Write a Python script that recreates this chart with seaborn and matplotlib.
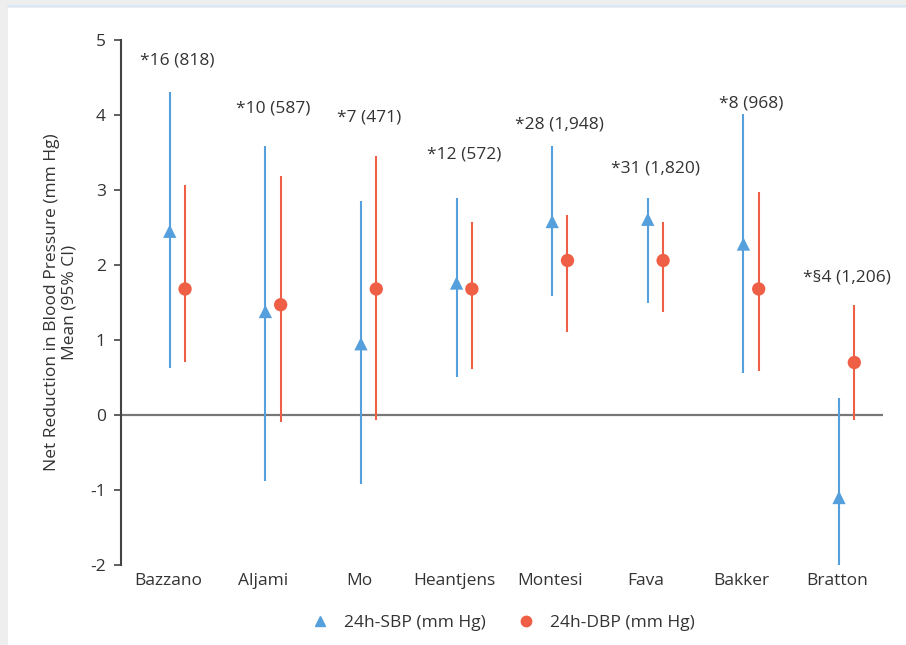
import matplotlib
matplotlib.use("Agg")
import matplotlib.pyplot as plt
from matplotlib.lines import Line2D
from matplotlib.patches import Rectangle
import numpy as np
import pandas as pd
import seaborn as sns

# Trials and their net 24-h blood pressure reductions (mm Hg, mean with 95% CI)
studies = ["Bazzano", "Aljami", "Mo", "Heantjens", "Montesi", "Fava", "Bakker", "Bratton"]
sbp_mean = [2.45, 1.38, 0.95, 1.76, 2.58, 2.61, 2.28, -1.10]
sbp_low = [0.63, -0.88, -0.92, 0.51, 1.59, 1.50, 0.56, -2.00]
sbp_high = [4.31, 3.59, 2.86, 2.90, 3.59, 2.90, 4.01, 0.23]
dbp_mean = [1.68, 1.47, 1.68, 1.68, 2.06, 2.06, 1.68, 0.70]
dbp_low = [0.71, -0.09, -0.07, 0.62, 1.11, 1.38, 0.59, -0.07]
dbp_high = [3.07, 3.19, 3.45, 2.57, 2.67, 2.57, 2.97, 1.47]
# Study annotations: number of comparisons (participants)
study_notes = ["*16 (818)", "*10 (587)", "*7 (471)", "*12 (572)",
               "*28 (1,948)", "*31 (1,820)", "*8 (968)", "*\u00a74 (1,206)"]
note_y = [4.73, 4.09, 3.96, 3.47, 3.87, 3.29, 4.16, 1.83]
y_ticks = [5, 4, 3, 2, 1, 0, -1, -2]

BLUE = "#55a0dc"
RED = "#ef5f46"
TEXT = "#333333"
FS = 12.5

sns.set_theme(style="white")
plt.rcParams["font.family"] = ["Open Sans", "DejaVu Sans"]
plt.rcParams["axes.unicode_minus"] = False

fig = plt.figure(figsize=(9.06, 6.45), dpi=100)
fig.patch.set_facecolor("#eeeeef")
# white card with a thin top rule
fig.add_artist(Rectangle((8 / 906, 0), 1, 1 - 8 / 645, transform=fig.transFigure,
                         facecolor="white", edgecolor="none", zorder=-10))
fig.add_artist(Line2D([8 / 906, 1], [1 - 6 / 645, 1 - 6 / 645], transform=fig.transFigure,
                      color="#d9e8f6", lw=1.5, zorder=-9))

ax = fig.add_axes([121 / 906, 1 - 565 / 645, 762 / 906, 525 / 645])
ax.set_facecolor("none")

idx = np.arange(len(studies))
off = 0.08
df = pd.DataFrame({
    "pos": np.concatenate([idx - off, idx + off]),
    "mean": sbp_mean + dbp_mean,
    "low": sbp_low + dbp_low,
    "high": sbp_high + dbp_high,
    "measure": ["24h-SBP (mm Hg)"] * len(studies) + ["24h-DBP (mm Hg)"] * len(studies),
})

ax.axhline(0, color="#777777", lw=1.6, zorder=1)

for measure, color in [("24h-SBP (mm Hg)", BLUE), ("24h-DBP (mm Hg)", RED)]:
    sub = df[df["measure"] == measure]
    ax.vlines(sub["pos"], sub["low"], sub["high"], color=color, lw=1.5, zorder=2)

sns.scatterplot(data=df, x="pos", y="mean", hue="measure", style="measure",
                palette={"24h-SBP (mm Hg)": BLUE, "24h-DBP (mm Hg)": RED},
                markers={"24h-SBP (mm Hg)": "^", "24h-DBP (mm Hg)": "o"},
                s=92, linewidth=0, legend=False, ax=ax, zorder=3)

for i, (note, yv) in enumerate(zip(study_notes, note_y)):
    ax.text(i, yv, note, ha="center", va="center", fontsize=FS, color=TEXT)

ax.set_xlim(-0.59, 7.38)
ax.set_ylim(-2, 5)
ax.set_yticks(y_ticks)
ax.set_yticklabels([str(t) for t in y_ticks])
ax.set_xticks(idx - 0.1)
ax.set_xticklabels(studies)
ax.tick_params(axis="y", which="both", left=True, length=5, width=1.2, color="#444444",
               labelsize=FS, labelcolor=TEXT, pad=6)
ax.tick_params(axis="x", length=0, labelsize=FS, labelcolor=TEXT, pad=6)
for side in ["top", "right", "bottom"]:
    ax.spines[side].set_visible(False)
ax.spines["left"].set_color("#444444")
ax.spines["left"].set_linewidth(1.5)
ax.set_xlabel("")
ax.set_ylabel("Net Reduction in Blood Pressure (mm Hg)\nMean (95% CI)",
              fontsize=FS, color=TEXT, labelpad=9, linespacing=1.15)

handles = [
    Line2D([], [], marker="^", color=BLUE, linestyle="none", markersize=7.5),
    Line2D([], [], marker="o", color=RED, linestyle="none", markersize=7.5),
]
fig.legend(handles, ["24h-SBP (mm Hg)", "24h-DBP (mm Hg)"], loc="center",
           bbox_to_anchor=(499 / 906, 1 - 623 / 645), ncol=2, frameon=False,
           fontsize=FS, labelcolor=TEXT, handletextpad=0.4, columnspacing=1.3)

fig.savefig("out.png", dpi=100, facecolor=fig.get_facecolor())
